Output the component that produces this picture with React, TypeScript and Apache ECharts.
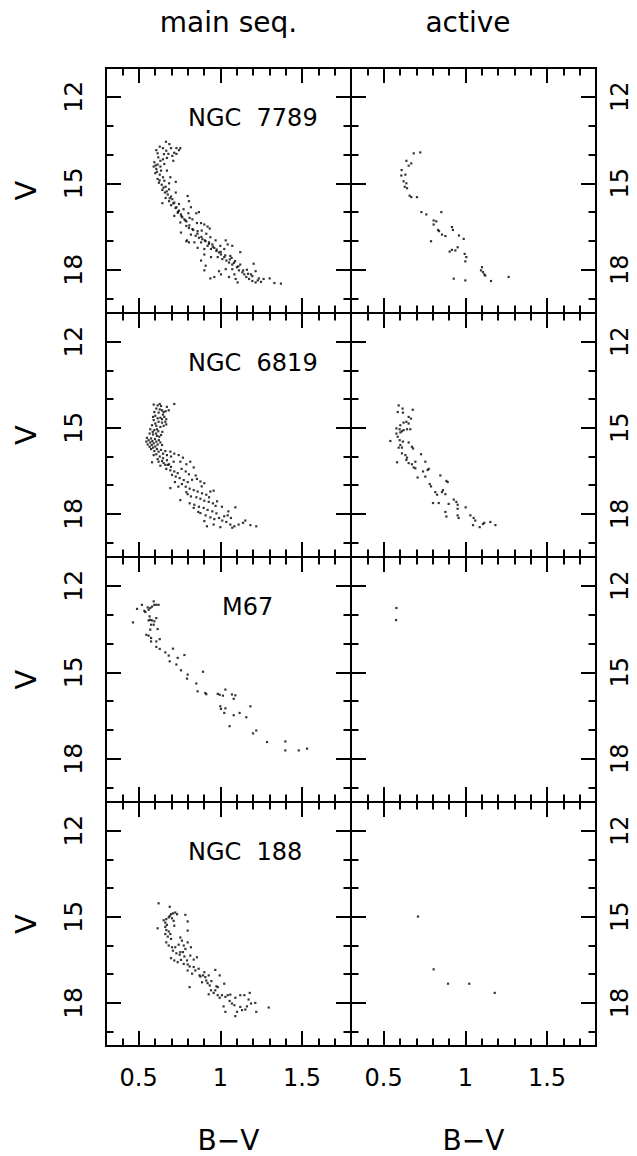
import React, { useEffect, useRef } from 'react';
import * as echarts from 'echarts';

// ---------- data: [B-V, V] ----------
const ngc7789Main: [number, number][] = [
  [0.667, 13.56], [0.688, 13.64], [0.629, 13.73], [0.649, 13.78], [0.698, 13.78], [0.669, 13.87], [0.731, 13.78], [0.755, 13.78],
  [0.718, 13.94], [0.682, 13.98], [0.608, 13.85], [0.616, 13.96], [0.706, 14.05], [0.731, 13.98], [0.673, 14.12], [0.649, 14.17],
  [0.633, 14.22], [0.596, 14.27], [0.616, 14.35], [0.657, 14.33], [0.592, 14.42], [0.608, 14.5], [0.637, 14.56], [0.602, 14.65],
  [0.629, 14.7], [0.649, 14.79], [0.616, 14.85], [0.657, 14.91], [0.624, 14.98], [0.641, 15.05], [0.665, 15.12], [0.645, 15.23],
  [0.686, 15.21], [0.727, 14.95], [0.661, 15.32], [0.678, 15.39], [0.698, 15.46], [0.665, 15.51], [0.706, 15.55], [0.686, 15.62],
  [0.718, 15.67], [0.645, 15.69], [0.698, 15.76], [0.731, 15.83], [0.747, 15.95], [0.739, 16.02], [0.759, 16.08], [0.718, 16.13],
  [0.767, 16.18], [0.78, 16.25], [0.792, 16.32], [0.755, 16.36], [0.812, 16.2], [0.8, 15.44], [0.808, 15.62], [0.82, 15.83],
  [0.853, 16.04], [0.869, 16.0], [0.792, 16.48], [0.808, 16.55], [0.829, 16.59], [0.861, 16.66], [0.882, 16.38], [0.902, 16.43],
  [0.922, 16.5], [0.935, 16.57], [0.82, 16.78], [0.849, 16.82], [0.869, 16.89], [0.89, 16.94], [0.91, 17.01], [0.882, 17.05],
  [0.931, 17.05], [0.951, 17.12], [0.963, 17.24], [0.943, 17.28], [0.922, 17.17], [0.976, 17.35], [0.992, 17.4], [1.004, 17.47],
  [0.984, 17.56], [1.012, 17.63], [1.037, 17.68], [1.053, 17.75], [1.073, 17.82], [0.841, 17.05], [0.808, 17.05], [0.796, 16.98],
  [0.861, 17.24], [0.902, 17.28], [0.759, 16.71], [0.792, 17.01], [1.033, 16.98], [1.045, 17.12], [1.073, 17.17], [1.122, 17.39],
  [1.102, 17.91], [1.114, 18.02], [1.135, 18.09], [1.147, 18.16], [1.159, 18.25], [1.176, 18.32], [1.196, 18.39], [1.216, 18.44],
  [1.229, 18.37], [1.249, 18.42], [1.188, 18.16], [1.204, 17.79], [1.216, 18.05], [1.265, 18.32], [1.302, 18.3], [1.331, 18.46],
  [1.371, 18.48], [1.094, 18.32], [1.106, 18.44], [1.053, 18.25], [1.004, 18.16], [0.963, 18.25], [0.939, 18.3], [0.992, 18.05],
  [0.91, 17.86], [0.902, 18.02], [1.033, 17.98], [1.073, 17.98], [1.086, 18.16], [1.024, 17.56], [1.061, 17.52], [0.943, 17.56],
  [0.902, 17.47], [0.882, 17.68], [0.633, 14.42], [0.62, 14.1], [0.655, 13.99], [0.712, 14.22], [0.747, 13.85], [0.673, 14.56],
  [0.694, 14.79], [0.686, 15.0], [0.727, 15.32], [0.747, 15.72], [0.775, 15.9], [0.804, 16.04], [0.829, 16.25], [0.857, 16.38],
  [0.886, 16.64], [0.914, 16.75], [0.939, 16.87], [0.971, 16.98], [1.0, 17.17], [1.024, 17.28], [1.069, 17.59], [1.09, 17.7],
  [1.122, 17.82], [1.163, 18.0],
  [0.604, 14.38], [0.612, 14.6], [0.628, 14.9], [0.652, 15.15], [0.672, 15.28], [0.69, 15.52], [0.712, 15.7], [0.726, 15.86],
  [0.741, 15.99], [0.762, 16.14], [0.786, 16.29], [0.81, 16.46], [0.834, 16.62], [0.86, 16.75], [0.884, 16.86], [0.905, 16.98],
  [0.93, 17.1], [0.954, 17.2], [0.978, 17.3], [1.002, 17.38], [1.03, 17.5], [1.058, 17.64], [1.083, 17.76], [1.11, 17.88],
  [1.14, 18.02], [1.17, 18.14], [1.196, 18.22], [1.236, 18.3],
];

const ngc7789Active: [number, number][] = [
  [0.724, 13.93], [0.684, 13.96], [0.639, 14.22], [0.669, 14.31], [0.653, 14.39], [0.61, 14.54], [0.633, 14.7], [0.608, 14.73],
  [0.622, 14.93], [0.639, 15.0], [0.629, 15.12], [0.643, 15.17], [0.659, 15.43], [0.669, 15.48], [0.704, 15.48], [0.731, 16.0],
  [0.761, 16.08], [0.853, 16.0], [0.806, 16.29], [0.822, 16.32], [0.806, 16.43], [0.833, 16.62], [0.839, 16.66], [0.857, 16.78],
  [0.878, 16.83], [0.79, 17.01], [0.918, 16.52], [0.924, 16.62], [0.961, 16.81], [0.99, 16.93], [0.904, 17.37], [0.918, 17.31],
  [0.939, 17.33], [0.953, 17.22], [0.996, 17.45], [1.006, 17.56], [1.0, 17.71], [1.102, 17.91], [1.096, 18.02], [1.108, 18.08],
  [1.116, 18.16], [1.122, 18.2], [0.929, 18.31], [1.0, 18.37], [1.157, 18.39], [1.265, 18.25],
];

const ngc6819Main: [number, number][] = [
  [0.592, 14.19], [0.616, 14.22], [0.629, 14.17], [0.637, 14.24], [0.718, 14.17], [0.608, 14.33], [0.643, 14.39], [0.665, 14.42],
  [0.684, 14.39], [0.622, 14.47], [0.649, 14.54], [0.602, 14.58], [0.633, 14.65], [0.657, 14.62], [0.669, 14.7], [0.592, 14.73],
  [0.622, 14.79], [0.643, 14.82], [0.663, 14.79], [0.582, 14.91], [0.608, 14.93], [0.633, 14.97], [0.653, 14.93], [0.669, 14.88],
  [0.571, 15.05], [0.596, 15.08], [0.62, 15.12], [0.645, 15.14], [0.567, 15.2], [0.588, 15.23], [0.612, 15.28], [0.637, 15.25],
  [0.551, 15.35], [0.576, 15.37], [0.6, 15.39], [0.624, 15.43], [0.547, 15.48], [0.571, 15.51], [0.592, 15.54], [0.616, 15.58],
  [0.643, 15.6], [0.567, 15.66], [0.588, 15.69], [0.612, 15.74], [0.637, 15.77], [0.663, 15.81], [0.694, 15.83], [0.718, 15.9],
  [0.745, 15.95], [0.771, 16.04], [0.582, 16.2], [0.608, 15.92], [0.629, 16.0], [0.649, 16.06], [0.673, 16.13], [0.622, 16.18],
  [0.653, 16.23], [0.678, 16.29], [0.698, 16.36], [0.669, 16.43], [0.694, 16.48], [0.718, 16.52], [0.739, 16.58], [0.755, 16.18],
  [0.792, 16.27], [0.816, 16.18], [0.837, 16.38], [0.704, 16.64], [0.727, 16.7], [0.751, 16.75], [0.776, 16.82], [0.8, 16.89],
  [0.827, 16.81], [0.857, 16.78], [0.878, 16.87], [0.902, 16.93], [0.694, 17.1], [0.765, 16.96], [0.788, 17.05], [0.812, 17.12],
  [0.837, 17.17], [0.861, 17.22], [0.888, 17.28], [0.914, 17.33], [0.939, 17.22], [0.959, 17.19], [0.8, 17.31], [0.82, 17.39],
  [0.853, 17.42], [0.878, 17.47], [0.902, 17.54], [0.929, 17.58], [0.955, 17.63], [0.98, 17.56], [0.755, 17.52], [0.812, 17.63],
  [0.841, 17.68], [0.869, 17.75], [0.898, 17.79], [0.922, 17.86], [0.951, 17.91], [0.976, 17.98], [1.01, 17.75], [1.092, 17.77],
  [0.878, 17.97], [0.91, 18.05], [0.939, 18.12], [0.963, 18.18], [0.992, 18.14], [1.024, 18.08], [1.045, 18.05], [1.065, 18.14],
  [1.012, 18.23], [1.037, 18.28], [1.061, 18.37], [1.086, 18.43], [1.112, 18.37], [1.139, 18.31], [1.153, 18.23], [1.184, 18.39],
  [1.22, 18.43], [0.918, 18.43], [0.959, 18.37], [1.0, 18.46], [1.073, 18.48], [0.837, 17.79], [0.865, 17.93], [0.792, 17.24],
  [0.722, 16.89], [0.743, 17.05], [0.686, 16.27], [0.714, 16.18], [0.763, 16.43], [0.788, 16.52], [0.808, 16.62], [0.849, 16.66],
  [0.886, 17.04], [0.931, 17.42], [0.971, 17.72], [1.049, 17.91], [0.902, 18.25],
  [0.586, 15.14], [0.606, 15.2], [0.626, 15.31], [0.561, 15.43], [0.584, 15.46], [0.608, 15.48], [0.633, 15.51], [0.555, 15.58],
  [0.58, 15.6], [0.602, 15.65], [0.576, 15.74], [0.596, 15.81], [0.622, 15.83], [0.649, 15.9], [0.673, 15.95], [0.698, 16.0],
  [0.592, 15.95], [0.616, 16.09], [0.643, 16.16], [0.663, 16.29], [0.633, 16.32], [0.602, 14.85], [0.616, 14.67], [0.643, 14.7],
  [0.653, 14.45], [0.629, 14.36], [0.673, 14.27], [0.596, 14.45], [0.588, 14.62], [0.612, 15.05],
];

const ngc6819Active: [number, number][] = [
  [0.592, 14.22], [0.586, 14.45], [0.616, 14.33], [0.618, 14.47], [0.678, 14.37], [0.653, 14.62], [0.667, 14.68], [0.639, 14.79],
  [0.622, 14.82], [0.653, 14.85], [0.602, 14.91], [0.578, 15.02], [0.598, 15.05], [0.622, 15.08], [0.643, 15.05], [0.663, 15.05],
  [0.578, 15.2], [0.602, 15.16], [0.612, 15.12], [0.586, 15.31], [0.541, 15.46], [0.598, 15.43], [0.618, 15.48], [0.602, 15.6],
  [0.592, 15.69], [0.612, 15.69], [0.653, 15.51], [0.673, 15.66], [0.68, 15.72], [0.582, 16.2], [0.612, 15.89], [0.633, 15.95],
  [0.643, 16.04], [0.639, 16.12], [0.653, 16.23], [0.673, 16.27], [0.684, 16.38], [0.694, 16.41], [0.729, 15.92], [0.694, 16.18],
  [0.755, 16.18], [0.769, 16.47], [0.776, 16.43], [0.708, 16.73], [0.741, 16.52], [0.755, 16.7], [0.782, 16.96], [0.79, 17.04],
  [0.816, 17.24], [0.827, 17.33], [0.847, 16.66], [0.884, 16.85], [0.892, 16.89], [0.863, 17.17], [0.857, 17.24], [0.878, 17.31],
  [0.802, 17.62], [0.837, 17.62], [0.898, 17.65], [0.929, 17.5], [0.945, 17.58], [0.953, 17.68], [0.953, 17.82], [1.002, 17.77],
  [0.878, 17.93], [0.884, 18.09], [0.953, 18.05], [0.959, 18.14], [1.031, 18.05], [1.051, 18.14], [1.061, 18.23], [1.047, 18.39],
  [1.088, 18.46], [1.108, 18.35], [1.116, 18.31], [1.153, 18.28], [1.184, 18.39],
];

const m67Main: [number, number][] = [
  [0.465, 13.27], [0.49, 12.8], [0.52, 12.66], [0.535, 12.87], [0.541, 12.91], [0.555, 12.75], [0.561, 12.83], [0.571, 12.77],
  [0.582, 12.72], [0.592, 12.54], [0.596, 12.66], [0.608, 12.66], [0.622, 12.66], [0.567, 13.06], [0.561, 13.2], [0.571, 13.18],
  [0.582, 13.2], [0.596, 13.23], [0.608, 13.12], [0.576, 13.35], [0.592, 13.35], [0.616, 13.5], [0.571, 13.52], [0.547, 13.7],
  [0.561, 13.73], [0.576, 13.81], [0.576, 13.93], [0.608, 13.93], [0.629, 13.85], [0.608, 14.12], [0.629, 14.19], [0.663, 14.31],
  [0.684, 14.42], [0.71, 14.18], [0.739, 14.5], [0.78, 14.4], [0.69, 14.62], [0.731, 14.73], [0.759, 14.93], [0.8, 15.08],
  [0.796, 15.22], [0.894, 14.98], [0.853, 15.39], [0.861, 15.66], [0.908, 15.72], [0.914, 15.76], [0.984, 15.75], [0.996, 15.78],
  [1.016, 15.81], [1.031, 15.6], [1.071, 15.77], [1.082, 15.92], [1.092, 15.8], [1.0, 16.18], [1.004, 16.27], [1.031, 16.25],
  [1.024, 16.41], [1.082, 16.49], [1.118, 16.41], [1.159, 16.56], [1.184, 16.18], [1.057, 16.87], [1.2, 17.12], [1.22, 17.02],
  [1.286, 17.42], [1.398, 17.4], [1.398, 17.71], [1.48, 17.71], [1.531, 17.65],
];

const m67Active: [number, number][] = [[0.578, 12.77], [0.576, 13.19]];

const ngc188Main: [number, number][] = [
  [0.622, 14.53], [0.69, 14.65], [0.786, 14.93], [0.8, 15.16], [0.8, 15.48], [0.616, 15.4], [0.653, 15.12], [0.663, 15.2],
  [0.669, 15.08], [0.684, 15.02], [0.69, 14.97], [0.698, 14.91], [0.71, 14.88], [0.724, 14.85], [0.735, 14.91], [0.704, 15.05],
  [0.714, 15.14], [0.718, 15.31], [0.673, 15.28], [0.663, 15.35], [0.669, 15.46], [0.684, 15.51], [0.694, 15.6], [0.663, 15.6],
  [0.678, 15.69], [0.698, 15.77], [0.669, 15.89], [0.684, 16.0], [0.704, 16.06], [0.724, 16.06], [0.745, 15.97], [0.755, 15.72],
  [0.765, 15.83], [0.776, 16.0], [0.8, 15.89], [0.71, 16.18], [0.731, 16.27], [0.751, 16.32], [0.771, 16.23], [0.786, 16.12],
  [0.82, 16.06], [0.698, 16.44], [0.718, 16.52], [0.739, 16.58], [0.759, 16.5], [0.78, 16.38], [0.796, 16.52], [0.816, 16.35],
  [0.837, 16.49], [0.857, 16.41], [0.8, 16.66], [0.812, 16.73], [0.8, 16.87], [0.837, 16.75], [0.847, 16.87], [0.867, 16.81],
  [0.878, 17.08], [0.894, 17.04], [0.908, 17.1], [0.929, 17.04], [0.969, 16.85], [0.996, 17.04], [0.812, 17.45], [0.914, 17.22],
  [0.922, 17.31], [0.935, 17.39], [0.943, 17.56], [0.929, 17.7], [0.959, 17.65], [0.976, 17.42], [0.969, 17.56], [1.024, 17.33],
  [0.984, 17.73], [0.996, 17.82], [1.01, 17.73], [1.031, 17.79], [1.045, 17.73], [1.061, 17.71], [1.02, 18.12], [1.031, 18.31],
  [1.057, 17.93], [1.071, 18.02], [1.086, 18.08], [1.092, 17.82], [1.122, 17.73], [1.147, 17.73], [1.18, 17.65], [1.122, 18.14],
  [1.102, 18.31], [1.092, 18.46], [1.133, 18.25], [1.153, 18.23], [1.163, 18.12], [1.188, 18.02], [1.214, 18.0], [1.22, 18.31],
  [1.296, 18.16], [1.173, 17.88], [0.873, 17.04], [0.755, 16.23], [0.776, 16.64], [0.827, 16.98], [0.888, 17.28], [0.945, 17.24],
  [0.984, 17.45], [0.902, 16.93],
];

const ngc188Active: [number, number][] = [[0.71, 14.99], [0.806, 16.83], [0.894, 17.33], [1.024, 17.33], [1.18, 17.65]];

const clusterNames = ['NGC  7789', 'NGC  6819', 'M67', 'NGC  188'];
const columnTitles = ['main seq.', 'active'];
const xTitle = 'B\u2212V';
const yTitle = 'V';

const xMajorTicks = [0.5, 1, 1.5];
const xMinorTicks = [0.4, 0.6, 0.7, 0.8, 0.9, 1.1, 1.2, 1.3, 1.4, 1.6, 1.7];
const yMajorTicks = [12, 15, 18];
const yMinorTicks = [13, 14, 16, 17, 19];

const mainSets = [ngc7789Main, ngc6819Main, m67Main, ngc188Main];
const activeSets = [ngc7789Active, ngc6819Active, m67Active, ngc188Active];

// ---------- layout ----------
const FONT = 'DejaVu Sans';
const X_MIN = 0.3, X_MAX = 1.8, Y_MIN = 11, Y_MAX = 19.5;
const COL_LEFT = [106, 351];
const PANEL_W = 245;
const ROW_TOPS = [68, 313, 557, 802];
const BOTTOM = 1046;
const LABEL_LEFT = [188, 188, 222, 188];

const lineStyle = { color: '#000', width: 2 };

function buildOption() {
  const grid: any[] = [];
  const xAxis: any[] = [];
  const yAxis: any[] = [];
  const series: any[] = [];
  const title: any[] = [];

  for (let r = 0; r < 4; r++) {
    for (let c = 0; c < 2; c++) {
      const g = grid.length;
      const top = ROW_TOPS[r];
      const height = (r < 3 ? ROW_TOPS[r + 1] : BOTTOM) - top;
      grid.push({ left: COL_LEFT[c], top, width: PANEL_W, height, outerBoundsMode: 'none', containLabel: false });

      const mkX = (position: string, major: boolean, extra: any = {}) => ({
        type: 'value', gridIndex: g, position, min: X_MIN, max: X_MAX,
        axisLine: { show: true, onZero: false, lineStyle },
        splitLine: { show: false },
        axisTick: { show: true, inside: true, length: major ? 15 : 7.5, lineStyle, customValues: major ? xMajorTicks : xMinorTicks },
        axisLabel: { show: false },
        ...extra,
      });
      const mkY = (position: string, major: boolean, extra: any = {}) => ({
        type: 'value', gridIndex: g, position, min: Y_MIN, max: Y_MAX, inverse: true,
        axisLine: { show: true, onZero: false, lineStyle },
        splitLine: { show: false },
        axisTick: { show: true, inside: true, length: major ? 15 : 7.5, lineStyle, customValues: major ? yMajorTicks : yMinorTicks },
        axisLabel: { show: false },
        ...extra,
      });

      const bottomExtra: any = {};
      if (r === 3) {
        bottomExtra.axisLabel = {
          show: true, customValues: xMajorTicks, margin: 20, fontSize: 24, fontFamily: FONT, color: '#000',
          formatter: (v: number) => String(v),
        };
        bottomExtra.name = xTitle;
        bottomExtra.nameLocation = 'middle';
        bottomExtra.nameGap = 80;
        bottomExtra.nameTextStyle = { fontSize: 28, fontFamily: FONT, color: '#000' };
      }
      const topExtra: any = {};
      if (r === 0) {
        topExtra.name = columnTitles[c];
        topExtra.nameLocation = 'middle';
        topExtra.nameGap = 32;
        topExtra.nameTextStyle = { fontSize: 28, fontFamily: FONT, color: '#000', padding: c === 1 ? [0, 11, 0, 0] : 0 };
      }
      xAxis.push(mkX('bottom', true, bottomExtra));
      xAxis.push(mkX('bottom', false));
      xAxis.push(mkX('top', true, topExtra));
      xAxis.push(mkX('top', false));

      const leftExtra: any = {};
      const rightExtra: any = {};
      const yLabel = (margin: number, size: number) => ({
        show: true, customValues: yMajorTicks, rotate: 90, margin, fontSize: size, fontFamily: FONT, color: '#000',
        formatter: (v: number) => String(v),
      });
      if (c === 0) {
        leftExtra.axisLabel = yLabel(20, 25);
        leftExtra.name = yTitle;
        leftExtra.nameLocation = 'middle';
        leftExtra.nameRotate = 90;
        leftExtra.nameGap = 66;
        leftExtra.nameTextStyle = { fontSize: 29, fontFamily: FONT, color: '#000' };
      } else {
        rightExtra.axisLabel = yLabel(12, 24);
      }
      yAxis.push(mkY('left', true, leftExtra));
      yAxis.push(mkY('left', false));
      yAxis.push(mkY('right', true, rightExtra));
      yAxis.push(mkY('right', false));

      series.push({
        type: 'scatter', xAxisIndex: 4 * g, yAxisIndex: 4 * g,
        data: c === 0 ? mainSets[r] : activeSets[r],
        symbol: 'rect', symbolSize: 2.2, itemStyle: { color: '#000' }, silent: true,
      });

      if (c === 0) {
        title.push({
          text: clusterNames[r], left: LABEL_LEFT[r], top: top + 37.7, padding: 0,
          textStyle: { fontSize: 24, fontWeight: 'normal', fontFamily: FONT, color: '#000' },
        });
      }
    }
  }

  return { animation: false, backgroundColor: '#fff', grid, xAxis, yAxis, series, title };
}

export default function App() {
  const ref = useRef<HTMLDivElement>(null);
  useEffect(() => {
    if (!ref.current) return;
    const chart = echarts.init(ref.current, null, { renderer: 'svg' });
    chart.setOption(buildOption() as any);
    return () => chart.dispose();
  }, []);
  return <div ref={ref} style={{ position: 'absolute', left: 0, top: 0, width: 637, height: 1156 }} />;
}
